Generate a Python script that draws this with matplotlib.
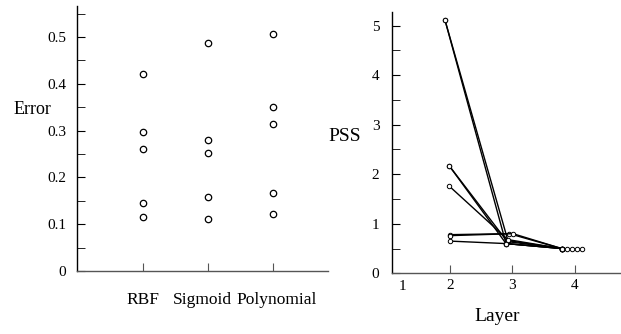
import matplotlib
matplotlib.use("Agg")
import matplotlib.pyplot as plt
from matplotlib.ticker import MultipleLocator
from matplotlib.transforms import blended_transform_factory, ScaledTranslation

plt.rcParams['font.family'] = ['Liberation Serif', 'DejaVu Serif']

# left panel: error per kernel
kernels = ['RBF', 'Sigmoid', 'Polynomial']
rbf = [0.421, 0.297, 0.261, 0.145, 0.115]
sigmoid = [0.488, 0.281, 0.253, 0.159, 0.112]
polynomial = [0.507, 0.351, 0.315, 0.167, 0.121]

# right panel: PSS per layer, one list per run
layer_x = [
    [1.92, 2.90, 3.79],
    [1.92, 2.93, 3.79],
    [1.99, 2.90, 3.79],
    [1.99, 2.92, 3.79],
    [1.99, 2.93, 3.79],
    [2.00, 2.95, 3.79],
    [2.00, 3.01, 3.79],
    [2.00, 2.90, 3.79],
]
pss = [
    [5.12, 0.60, 0.50],
    [5.12, 0.66, 0.50],
    [2.17, 0.60, 0.50],
    [2.17, 0.64, 0.50],
    [1.76, 0.68, 0.50],
    [0.78, 0.80, 0.50],
    [0.76, 0.80, 0.50],
    [0.65, 0.60, 0.50],
]
end_x = [3.79, 3.87, 3.95, 4.03, 4.11]
end_pss = [0.50, 0.50, 0.50, 0.50, 0.50]

fig = plt.figure(figsize=(6.21, 3.34), dpi=100)
ax1 = fig.add_axes([0.124, 0.1886, 0.404, 0.793])
ax2 = fig.add_axes([0.631, 0.1817, 0.367, 0.782])

# left
for i, vals in enumerate([rbf, sigmoid, polynomial]):
    ax1.plot([i + 1] * len(vals), vals, 'o', mfc='white', mec='black',
             ms=4.6, mew=0.9, ls='none')
ax1.set_xlim(-0.015, 3.85)
ax1.set_ylim(0, 0.566)
ax1.set_xticks([1, 2, 3])
ax1.set_xticklabels(kernels, fontsize=12.5)
ax1.yaxis.set_minor_locator(MultipleLocator(0.05))
ax1.set_yticks([0, 0.1, 0.2, 0.3, 0.4, 0.5])
ax1.set_yticklabels(['0', '0.1', '0.2', '0.3', '0.4', '0.5'], fontsize=11)
ax1.tick_params(axis='x', direction='in', length=6, pad=15, color='#555555')
ax1.tick_params(axis='y', which='both', direction='in', length=6, pad=8)
# nudge the crowded category labels apart a little
for lab, dx in zip(ax1.get_xticklabels(), [0, -5, 4]):
    lab.set_transform(lab.get_transform() +
                      ScaledTranslation(dx / 100, 0, fig.dpi_scale_trans))
ax1.set_ylabel('Error', rotation=0, fontsize=13, ha='center', va='center')
ax1.yaxis.set_label_coords(-0.179, 0.611)

# right
for xs, ys in zip(layer_x, pss):
    ax2.plot(xs, ys, '-o', color='black', lw=1.0, mfc='white', mec='black',
             ms=3.2, mew=0.7)
ax2.plot(end_x, end_pss, 'o', mfc='white', mec='black', ms=3.2, mew=0.7)
ax2.set_xlim(1.072, 4.72)
ax2.set_ylim(0, 5.27)
ax2.set_xticks([2, 3, 4])
ax2.set_xticklabels(['2', '3', '4'], fontsize=11)
ax2.yaxis.set_major_locator(MultipleLocator(1))
ax2.yaxis.set_minor_locator(MultipleLocator(0.5))
ax2.tick_params(axis='x', direction='in', length=6, pad=4, color='#555555')
ax2.tick_params(axis='y', which='both', direction='in', length=6, pad=9,
                labelsize=11)
tr = blended_transform_factory(ax2.transData, ax2.transAxes)
ax2.text(1.25, -0.052, '1', transform=tr, fontsize=11, ha='center', va='center')
ax2.set_ylabel('PSS', rotation=0, fontsize=14, ha='center', va='center')
ax2.yaxis.set_label_coords(-0.206, 0.522)
ax2.set_xlabel('Layer', fontsize=14, va='center')
ax2.xaxis.set_label_coords(0.46, -0.166)

for ax in (ax1, ax2):
    ax.spines['top'].set_visible(False)
    ax.spines['right'].set_visible(False)
    ax.spines['left'].set_linewidth(1.0)
    ax.spines['bottom'].set_linewidth(1.0)
    ax.spines['bottom'].set_color('#555555')

fig.savefig('out.png', dpi=100)
